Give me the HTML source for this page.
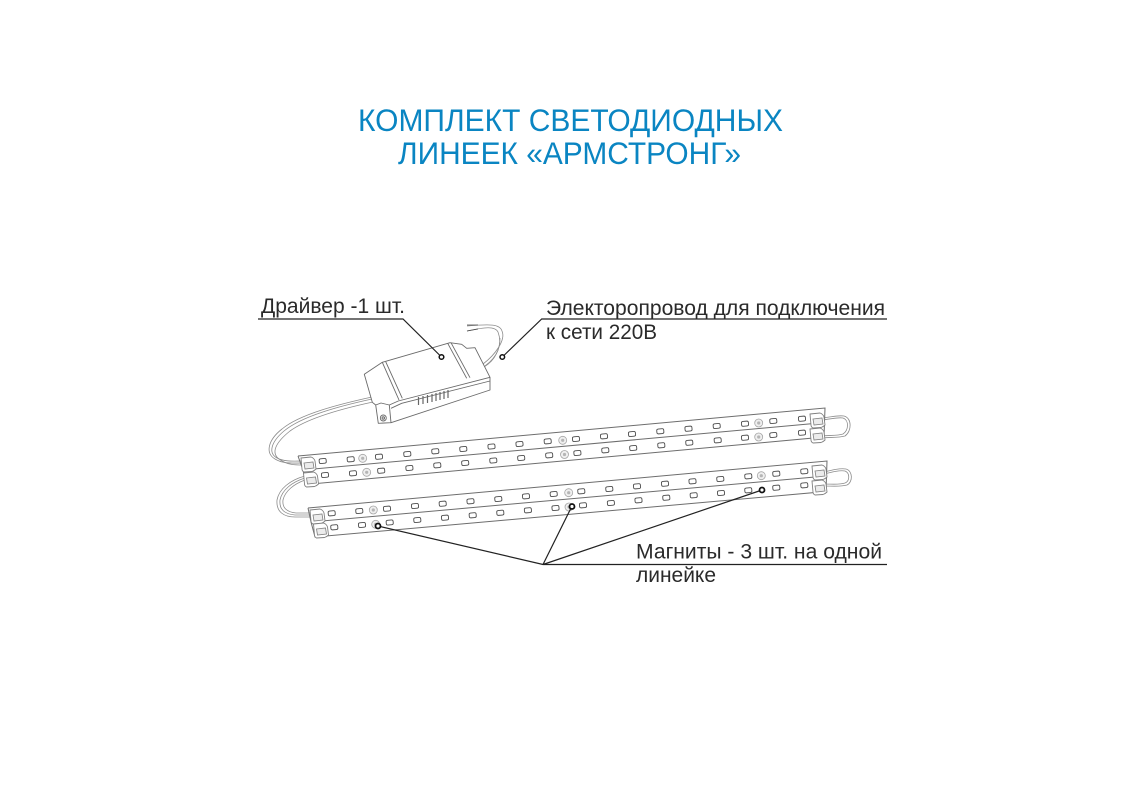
<!DOCTYPE html>
<html lang="ru">
<head>
<meta charset="utf-8">
<title>Комплект светодиодных линеек</title>
<style>
html,body{margin:0;padding:0;background:#fff;width:1143px;height:800px;overflow:hidden}
svg{display:block;filter:blur(.35px)}
text{font-family:"Liberation Sans",sans-serif}
.t{fill:#0a85c2;font-size:31.5px}
.l{fill:#2a2a2a;font-size:21px}
.w{fill:none;stroke:#8c8c8c;stroke-width:.8}
.e{fill:none;stroke:#6d6d6d;stroke-width:1}
.k{stroke:#1c1c1c;fill:none}
</style>
</head>
<body>
<svg width="1143" height="800" viewBox="0 0 1143 800" xmlns="http://www.w3.org/2000/svg">
<defs>
<g id="d"><rect x="-3.5" y="-2.4" width="7" height="4.8" rx="1.5" transform="rotate(-5)" fill="#fff" stroke="#4d4d4d" stroke-width=".9"/></g>
<g id="m"><circle r="4" fill="#efefef" stroke="#a5a5a5" stroke-width=".8"/><circle r="1.6" fill="#b5b5b5"/></g>
<g id="c"><path d="M0,1 L10,0 Q13,1 14,4 L15,12 Q13,14 11,14.5 L3,15 Q1,14 1,12 Z" fill="#fff" stroke="#808080" stroke-width=".9"/><path d="M3,6 L12,5 L13,11 L4,12 Z" fill="#ececec" stroke="#808080" stroke-width=".8"/></g>
</defs>

<text class="t" x="358" y="131" textLength="425" lengthAdjust="spacingAndGlyphs">КОМПЛЕКТ СВЕТОДИОДНЫХ</text>
<text class="t" x="398" y="164" textLength="343" lengthAdjust="spacingAndGlyphs">ЛИНЕЕК «АРМСТРОНГ»</text>

<!-- wires -->
<g class="w">
<path d="M372,397 C340,404 300,414 282,429 C268,440 265,453 275,459 C283,464 292,463 303,463"/>
<path d="M372,399 C340,406 302,416 284,431 C271,442 268,453 277,458 C285,462 294,461 303,461"/>
<path d="M373,402 C345,408 308,418 290,431 C275,443 271,453 279,459 C287,465 295,465 303,465"/>
<path d="M305,478 C292,482 282,490 280,500 C279,510 285,514 295,515 L311,515"/>
<path d="M305,480 C294,484 285,491 283,500 C282,508 287,512 296,513 L311,513"/>
<path d="M305,476 C290,480 279,489 277,500 C276,512 284,517 295,517 L311,517"/>
<path d="M822,418 C832,417 838,415 844,416 C852,418 852,431 845,436 C838,438 830,437 822,438"/>
<path d="M822,420 C832,419 838,417 843,418 C849,420 849,430 843,434 C837,436 830,435 822,436"/>
<path d="M824,472 C832,470 840,468 846,469 C853,471 853,482 847,485 C840,487 832,486 824,486"/>
<path d="M824,474 C832,472 840,470 845,471 C850,473 850,481 845,483 C839,485 832,484 824,484"/>
<path d="M483,364 C495,355 506,340 502,331 C500,324 490,324 467,326"/>
<path d="M485,366 C497,357 503,345 498,332 C495,326 485,327 467,331"/>
<path d="M484,367 C496,360 500,348 500,338"/>
<path d="M467,325 L478,325 M467,331 L478,329" stroke="#444"/>
</g>

<!-- strips -->
<g class="e">
<path d="M298,456 L825,408 L824,437 L306,484.500 L303,470 M298,456 L303,470 L825,422.500"/>
<path d="M308,508 L827,461 L826,491.500 L315,537 L311,522 M308,508 L311,522 L826,476"/>
</g>

<!-- magnets -->
<use href="#m" x="362.700" y="458.300"/><use href="#m" x="562.700" y="440.300"/><use href="#m" x="758.700" y="423"/>
<use href="#m" x="366.700" y="472.300"/><use href="#m" x="564.500" y="454.500"/><use href="#m" x="758.700" y="437"/>
<use href="#m" x="373.300" y="510"/><use href="#m" x="568.700" y="492.700"/><use href="#m" x="761.300" y="475.700"/>
<use href="#m" x="375.700" y="524.300"/><use href="#m" x="569" y="507"/>

<!-- LEDs pair 1 row 1 -->
<use href="#d" x="322.700" y="461"/><use href="#d" x="350.700" y="459.300"/><use href="#d" x="379" y="456.700"/><use href="#d" x="407.300" y="454"/><use href="#d" x="435.300" y="451.300"/><use href="#d" x="463.300" y="449"/><use href="#d" x="491.500" y="446.500"/><use href="#d" x="519.500" y="444"/><use href="#d" x="547.700" y="441.300"/><use href="#d" x="576" y="439"/><use href="#d" x="604" y="436.300"/><use href="#d" x="632" y="434"/><use href="#d" x="660.300" y="431.300"/><use href="#d" x="688.500" y="428.700"/><use href="#d" x="716.700" y="426"/><use href="#d" x="745" y="423.700"/><use href="#d" x="773.300" y="421"/><use href="#d" x="802" y="418.700"/>
<!-- LEDs pair 1 row 2 -->
<use href="#d" x="325" y="475"/><use href="#d" x="353" y="473.300"/><use href="#d" x="381.200" y="470.700"/><use href="#d" x="409.400" y="468"/><use href="#d" x="437.300" y="465.300"/><use href="#d" x="465.200" y="463"/><use href="#d" x="493.300" y="460.500"/><use href="#d" x="521.200" y="458"/><use href="#d" x="549.200" y="455.300"/><use href="#d" x="577.400" y="453"/><use href="#d" x="605.300" y="450.300"/><use href="#d" x="633.200" y="448"/><use href="#d" x="661.300" y="445.300"/><use href="#d" x="689.300" y="442.700"/><use href="#d" x="717.700" y="440.300"/><use href="#d" x="745" y="437.700"/><use href="#d" x="773.300" y="435"/><use href="#d" x="802" y="432.700"/>
<!-- LEDs pair 2 row 1 -->
<use href="#d" x="331.700" y="513.300"/><use href="#d" x="359.300" y="511"/><use href="#d" x="387" y="508.700"/><use href="#d" x="415" y="506"/><use href="#d" x="442.700" y="503.700"/><use href="#d" x="470.500" y="501.300"/><use href="#d" x="498.300" y="499"/><use href="#d" x="526" y="496.300"/><use href="#d" x="553.700" y="494"/><use href="#d" x="581.300" y="491.300"/><use href="#d" x="609.300" y="489"/><use href="#d" x="637" y="486.300"/><use href="#d" x="665" y="483.700"/><use href="#d" x="692.500" y="481.300"/><use href="#d" x="720.300" y="479"/><use href="#d" x="748.300" y="476.300"/><use href="#d" x="776.300" y="473.700"/><use href="#d" x="804.300" y="471.300"/>
<!-- LEDs pair 2 row 2 -->
<use href="#d" x="334.300" y="527.300"/><use href="#d" x="362" y="525"/><use href="#d" x="389.700" y="522.500"/><use href="#d" x="417.300" y="520"/><use href="#d" x="445" y="517.700"/><use href="#d" x="472.700" y="515.300"/><use href="#d" x="500.300" y="512.800"/><use href="#d" x="527.900" y="510.300"/><use href="#d" x="555.500" y="508"/><use href="#d" x="583" y="505.300"/><use href="#d" x="610.900" y="503"/><use href="#d" x="638.500" y="500.300"/><use href="#d" x="666.300" y="497.700"/><use href="#d" x="693.700" y="495.300"/><use href="#d" x="721" y="493"/><use href="#d" x="748.300" y="490.300"/><use href="#d" x="776.300" y="487.700"/><use href="#d" x="804.300" y="485.300"/>

<!-- connectors -->
<use href="#c" x="301" y="457"/><use href="#c" x="303.500" y="472"/>
<use href="#c" x="310" y="509"/><use href="#c" x="313.500" y="523"/>
<use href="#c" x="810" y="413"/><use href="#c" x="810" y="428"/>
<use href="#c" x="812" y="465"/><use href="#c" x="812" y="480"/>

<!-- driver -->
<g fill="#fff" stroke="#6a6a6a" stroke-width=".9" stroke-linejoin="round">
<path d="M364.300,374.300 L382.300,362.300 L450,342.700 L461.700,344.300 L466.700,348.300 L475,347.700 L490,377.300 L490,390 L391,422.700 L378.300,423.300 L375.700,405 L372.300,402.300 Z"/>
<path d="M375.700,405 L381,403 L389.300,405 L391,422.700" fill="none"/>
<path d="M389.300,405 L398.300,401 L490,377.300 M391,408.300 L401.700,403.300 L490,381" fill="none"/>
<path d="M382.300,362.300 L399,400 M385.700,361.700 L402.300,398.300 M447.700,343.300 L466.700,378.300 M451,342.700 L470,377.700" fill="none"/>
<circle cx="383.300" cy="418" r="3" />
<circle cx="383.300" cy="418" r="1.300" fill="#ccc"/>
</g>
<g stroke="#666" stroke-width="1.200">
<path d="M418.500,397 v8 M423,396 v8 M427.500,395 v8 M432,394 v8 M436,393 v8 M440,392 v8 M444,391 v8 M448,390 v8"/>
</g>

<!-- leaders -->
<g class="k" stroke-width="1.200">
<path d="M258,319 H403 L441.500,357" stroke="#222"/>
<path d="M887,319 H541.700 L502.300,357" stroke="#222"/>
<path d="M887,564.500 H543 L378,526 M543,564.500 L572,506 M543,564.500 L762,490" stroke="#222"/>
</g>
<g fill="#fff" stroke="#111">
<circle cx="441.500" cy="357" r="2.300" stroke-width="1.500"/>
<circle cx="502.300" cy="357" r="2.300" stroke-width="1.500"/>
<circle cx="378" cy="526" r="2.500" stroke-width="1.800"/>
<circle cx="572" cy="506.500" r="2.500" stroke-width="1.800"/>
<circle cx="762" cy="490" r="2.500" stroke-width="1.800"/>
</g>

<!-- labels -->
<text class="l" x="261" y="313" textLength="144" lengthAdjust="spacingAndGlyphs">Драйвер -1 шт.</text>
<text class="l" x="546" y="315" textLength="339" lengthAdjust="spacingAndGlyphs">Электоропровод для подключения</text>
<text class="l" x="546" y="339" textLength="111" lengthAdjust="spacingAndGlyphs">к сети 220В</text>
<text class="l" x="636" y="558.500" textLength="246" lengthAdjust="spacingAndGlyphs">Магниты - 3 шт. на одной</text>
<text class="l" x="636" y="582" textLength="80" lengthAdjust="spacingAndGlyphs">линейке</text>
</svg>
</body>
</html>
